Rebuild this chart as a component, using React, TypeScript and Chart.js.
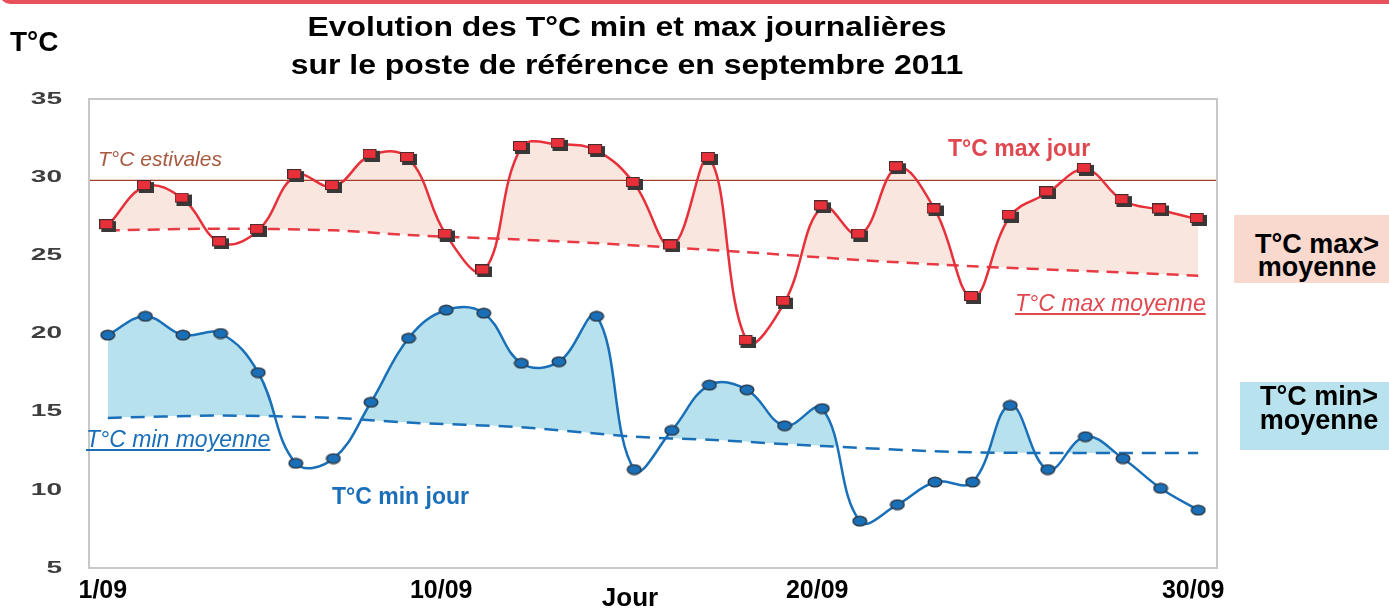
import React, { useEffect, useRef } from "react";
import { Chart, registerables } from "chart.js";

Chart.register(...registerables);

// ---- data ----
const days = [1, 2, 3, 4, 5, 6, 7, 8, 9, 10, 11, 12, 13, 14, 15, 16, 17, 18, 19, 20, 21, 22, 23, 24, 25, 26, 27, 28, 29, 30];
const maxJour = [26.9, 29.4, 28.6, 25.8, 26.6, 30.1, 29.4, 31.4, 31.2, 26.3, 24.0, 31.9, 32.1, 31.7, 29.6, 25.6, 31.2, 19.5, 22.0, 28.1, 26.3, 30.6, 27.9, 22.3, 27.5, 29.0, 30.5, 28.5, 27.9, 27.3];
const minJour = [19.9, 21.1, 19.9, 20.0, 17.5, 11.7, 12.0, 15.6, 19.7, 21.5, 21.3, 18.1, 18.2, 21.1, 11.3, 13.8, 16.7, 16.4, 14.1, 15.2, 8.0, 9.05, 10.5, 10.5, 15.4, 11.3, 13.4, 12.0, 10.1, 8.7];
const maxMoyDays = [1, 4, 7, 9, 13, 16, 18, 21, 24, 27, 30];
const maxMoy = [26.6, 26.7, 26.6, 26.3, 25.9, 25.5, 25.2, 24.7, 24.3, 24.0, 23.7];
const minMoyDays = [1, 4, 7, 9, 12, 15, 17, 20, 24, 30];
const minMoy = [14.6, 14.75, 14.6, 14.3, 14.0, 13.4, 13.2, 12.8, 12.4, 12.35];
const estivalesDays = [0.5, 30.5];
const estivales = [29.8, 29.8];
const yTicks = [5, 10, 15, 20, 25, 30, 35];
const xTickDays = [1, 10, 20, 30];
const xTickLabels = ["1/09", "10/09", "20/09", "30/09"];

const FONT = '"Liberation Sans", Arial, sans-serif';

function makeRectMarker(): HTMLCanvasElement {
  const c = document.createElement("canvas");
  c.width = 17;
  c.height = 13;
  const g = c.getContext("2d")!;
  g.fillStyle = "#383838";
  g.fillRect(2, 2, 15, 11);
  g.fillStyle = "#e8303a";
  g.fillRect(0, 0, 14, 10);
  g.strokeStyle = "#4a2a2a";
  g.lineWidth = 1;
  g.strokeRect(0.5, 0.5, 13, 9);
  return c;
}

function makeEllipseMarker(): HTMLCanvasElement {
  const c = document.createElement("canvas");
  c.width = 16;
  c.height = 12;
  const g = c.getContext("2d")!;
  g.beginPath();
  g.ellipse(8, 6, 6.8, 4.8, 0, 0, Math.PI * 2);
  g.fillStyle = "#1a70b8";
  g.fill();
  g.lineWidth = 1.5;
  g.strokeStyle = "#2b3b4b";
  g.stroke();
  return c;
}

const framePlugin = {
  id: "frame",
  afterDraw(chart: any) {
    const { ctx, chartArea: a, scales } = chart;
    ctx.save();
    ctx.strokeStyle = "#c8c8c8";
    ctx.lineWidth = 2;
    ctx.strokeRect(a.left, a.top, a.right - a.left, a.bottom - a.top);
    ctx.fillStyle = "#3e3e3e";
    ctx.font = `bold 17px ${FONT}`;
    ctx.textAlign = "right";
    ctx.textBaseline = "middle";
    for (const v of yTicks) {
      const py = scales.y.getPixelForValue(v);
      ctx.save();
      ctx.translate(62, py);
      ctx.scale(1.65, 1);
      ctx.fillText(String(v), 0, 0);
      ctx.restore();
    }
    ctx.restore();
  },
};

function abs(extra: React.CSSProperties): React.CSSProperties {
  return { position: "absolute", whiteSpace: "nowrap", lineHeight: 1, ...extra };
}

export default function App() {
  const ref = useRef<HTMLCanvasElement | null>(null);

  useEffect(() => {
    if (!ref.current) return;
    const rectImg = makeRectMarker();
    const ellImg = makeEllipseMarker();
    const chart = new Chart(ref.current, {
      type: "line",
      data: {
        datasets: [
          {
            label: "T°C max jour",
            data: days.map((d, i) => ({ x: d, y: maxJour[i] })),
            borderColor: "#e8303a",
            borderWidth: 2.5,
            tension: 0.4,
            pointStyle: rectImg as any,
            pointRadius: 7,
            fill: { target: 2, above: "#f9e7df", below: "rgba(0,0,0,0)" },
            order: 1,
          },
          {
            label: "T°C min jour",
            data: days.map((d, i) => ({ x: d, y: minJour[i] })),
            borderColor: "#1a70b8",
            borderWidth: 2.5,
            tension: 0.4,
            pointStyle: ellImg as any,
            pointRadius: 7,
            fill: { target: 3, above: "#b8e1ee", below: "rgba(0,0,0,0)" },
            order: 1,
          },
          {
            label: "T°C max moyenne",
            data: maxMoyDays.map((d, i) => ({ x: d, y: maxMoy[i] })),
            borderColor: "#e83a44",
            borderWidth: 2.5,
            borderDash: [12, 8],
            tension: 0.3,
            pointRadius: 0,
            fill: false,
            order: 2,
          },
          {
            label: "T°C min moyenne",
            data: minMoyDays.map((d, i) => ({ x: d, y: minMoy[i] })),
            borderColor: "#1a70b8",
            borderWidth: 2.5,
            borderDash: [14, 9],
            tension: 0.3,
            pointRadius: 0,
            fill: false,
            order: 2,
          },
          {
            label: "T°C estivales",
            data: estivalesDays.map((d, i) => ({ x: d, y: estivales[i] })),
            borderColor: "#a4402a",
            borderWidth: 1.2,
            pointRadius: 0,
            fill: false,
            order: 3,
          },
        ],
      },
      options: {
        responsive: false,
        animation: false,
        layout: { padding: { top: 99, right: 172, left: 0, bottom: 0 } },
        plugins: {
          legend: { display: false },
          tooltip: { enabled: false },
          filler: { drawTime: "beforeDatasetsDraw" } as any,
        },
        scales: {
          x: {
            type: "linear",
            min: 0.5,
            max: 30.5,
            grid: { display: false, drawTicks: false },
            border: { display: false },
            afterBuildTicks: (s: any) => {
              s.ticks = xTickDays.map((v) => ({ value: v }));
            },
            afterFit: (s: any) => {
              s.height = 40;
            },
            ticks: {
              callback: (v: any) => {
                const i = xTickDays.indexOf(Number(v));
                return i >= 0 ? xTickLabels[i] : "";
              },
              font: { family: FONT, weight: "bold", size: 25 },
              color: "#000",
              padding: 8,
              labelOffset: -5,
              maxRotation: 0,
              autoSkip: false,
            },
          },
          y: {
            min: 5,
            max: 35,
            grid: { display: false, drawTicks: false },
            border: { display: false },
            afterBuildTicks: (s: any) => {
              s.ticks = yTicks.map((v) => ({ value: v }));
            },
            afterFit: (s: any) => {
              s.width = 89;
            },
            ticks: { display: false },
          },
        },
      } as any,
      plugins: [framePlugin],
    });
    return () => chart.destroy();
  }, []);

  return (
    <div
      style={{
        position: "absolute",
        left: 0,
        top: 0,
        width: 1389,
        height: 608,
        background: "#fff",
        overflow: "hidden",
        fontFamily: FONT,
      }}
    >
      <div
        style={{
          position: "absolute",
          left: 0,
          top: -6,
          width: 1389,
          height: 10,
          background: "#e8515a",
          borderRadius: "0 0 0 10px",
        }}
      />
      <canvas ref={ref} width={1389} height={608} style={{ position: "absolute", left: 0, top: 0 }} />
      <div
        style={{
          position: "absolute",
          left: 0,
          top: 8,
          width: 1254,
          textAlign: "center",
          fontWeight: "bold",
          fontSize: 28,
          lineHeight: "38px",
          color: "#000",
          transform: "scaleX(1.14)",
          transformOrigin: "627px 0",
        }}
      >
        <div>Evolution des T°C min et max journalières</div>
        <div>sur le poste de référence en septembre 2011</div>
      </div>
      <div style={abs({ left: 10, top: 28, fontSize: 28, fontWeight: "bold", color: "#000" })}>T°C</div>
      <div style={abs({ left: 98, top: 148, fontSize: 21, fontStyle: "italic", color: "#a85a40" })}>T°C estivales</div>
      <div style={abs({ left: 948, top: 137, fontSize: 23, fontWeight: "bold", color: "#e04850" })}>T°C max jour</div>
      <div style={abs({ left: 1015, top: 292, fontSize: 23, fontStyle: "italic", color: "#e04850", textDecoration: "underline" })}>
        T°C max moyenne
      </div>
      <div style={abs({ left: 86, top: 428, fontSize: 23, fontStyle: "italic", color: "#1a6fb8", textDecoration: "underline" })}>
        T°C min moyenne
      </div>
      <div style={abs({ left: 332, top: 485, fontSize: 23, fontWeight: "bold", color: "#1a6fb8" })}>T°C min jour</div>
      <div style={abs({ left: 630, top: 584, fontSize: 26, fontWeight: "bold", color: "#000", transform: "translateX(-50%)" })}>Jour</div>

      <div style={{ position: "absolute", left: 1234, top: 215, width: 155, height: 68, background: "#f9d8ce" }} />
      <div style={abs({ left: 1234, width: 166, top: 231, fontSize: 27, fontWeight: "bold", color: "#000", textAlign: "center" })}>T°C max&gt;</div>
      <div style={abs({ left: 1234, width: 166, top: 254, fontSize: 27, fontWeight: "bold", color: "#000", textAlign: "center" })}>moyenne</div>

      <div style={{ position: "absolute", left: 1240, top: 382, width: 149, height: 68, background: "#b8e2ee" }} />
      <div style={abs({ left: 1240, width: 158, top: 383, fontSize: 27, fontWeight: "bold", color: "#000", textAlign: "center" })}>T°C min&gt;</div>
      <div style={abs({ left: 1240, width: 158, top: 407, fontSize: 27, fontWeight: "bold", color: "#000", textAlign: "center" })}>moyenne</div>
    </div>
  );
}
